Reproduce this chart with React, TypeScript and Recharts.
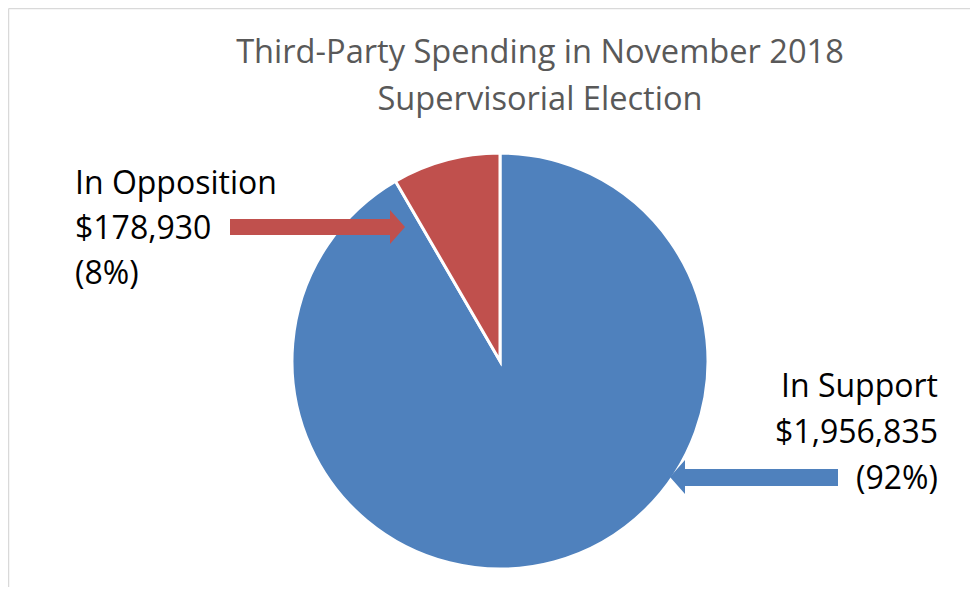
import React from 'react';
import { PieChart, Pie, Cell } from 'recharts';

const categories = ['In Support', 'In Opposition'];
const amounts = [1956835, 178930];
const amountLabels = ['$1,956,835', '$178,930'];
const percentLabels = ['(92%)', '(8%)'];
const colors = ['#4F81BD', '#C0504D'];
const titleLines = ['Third-Party Spending in November 2018', 'Supervisorial Election'];

const data = categories.map((name, i) => ({ name, value: amounts[i] }));

const FONT = '"Open Sans", "Noto Sans", sans-serif';
const LABEL_SIZE = 32;

const renderLabel = (props: any) => {
  const { cx, cy, index } = props;
  const lines = [categories[index], amountLabels[index], percentLabels[index]];
  if (index === 1) {
    const tx = cx - 425;
    const ys = [cy - 180, cy - 135, cy - 90];
    const arrow = `M${cx - 270},${cy - 142} L${cx - 110},${cy - 142} L${cx - 110},${cy - 151} L${cx - 95},${cy - 134} L${cx - 110},${cy - 117} L${cx - 110},${cy - 126} L${cx - 270},${cy - 126} Z`;
    return (
      <g key={`lab-${index}`}>
        <path d={arrow} fill={colors[1]} />
        {lines.map((t, i) => (
          <text key={i} x={tx} y={ys[i]} fill="#000" fontSize={LABEL_SIZE} fontFamily={FONT} dominantBaseline="central" textAnchor="start">{t}</text>
        ))}
      </g>
    );
  }
  const tx = cx + 438;
  const ys = [cy + 23, cy + 69, cy + 115];
  const arrow = `M${cx + 338},${cy + 108} L${cx + 185},${cy + 108} L${cx + 185},${cy + 99} L${cx + 170},${cy + 116} L${cx + 185},${cy + 133} L${cx + 185},${cy + 125} L${cx + 338},${cy + 125} Z`;
  return (
    <g key={`lab-${index}`}>
      <path d={arrow} fill={colors[0]} />
      {lines.map((t, i) => (
        <text key={i} x={tx} y={ys[i]} fill="#000" fontSize={LABEL_SIZE} fontFamily={FONT} dominantBaseline="central" textAnchor="end">{t}</text>
      ))}
    </g>
  );
};

export default function App() {
  return (
    <div style={{ position: 'relative', margin: -8, width: 978, height: 595, background: '#fff', overflow: 'hidden' }}>
      <PieChart width={978} height={595} margin={{ top: 0, right: 0, bottom: 0, left: 0 }}>
        <line x1={8.6} y1={8.6} x2={978} y2={8.6} stroke="#d9d9d9" strokeWidth={1.3} />
        <line x1={8.6} y1={8.6} x2={8.6} y2={595} stroke="#d9d9d9" strokeWidth={1.3} />
        <text x={540} y={50} textAnchor="middle" dominantBaseline="central" fill="#595959" fontSize={32.6} fontFamily={FONT}>{titleLines[0]}</text>
        <text x={540} y={97} textAnchor="middle" dominantBaseline="central" fill="#595959" fontSize={32.6} fontFamily={FONT}>{titleLines[1]}</text>
        <Pie
          data={data}
          dataKey="value"
          nameKey="name"
          cx={500}
          cy={361}
          outerRadius={208}
          startAngle={90}
          endAngle={-270}
          stroke="#fff"
          strokeWidth={3}
          label={renderLabel}
          labelLine={false}
          isAnimationActive={false}
        >
          {data.map((d, i) => (
            <Cell key={d.name} fill={colors[i]} />
          ))}
        </Pie>
      </PieChart>
    </div>
  );
}
